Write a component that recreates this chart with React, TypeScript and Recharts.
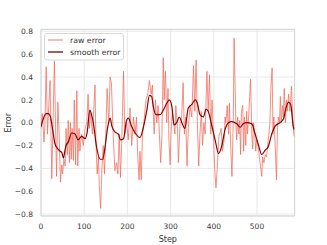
import React from "react";
import {
  LineChart,
  Line,
  XAxis,
  YAxis,
  CartesianGrid,
  ReferenceArea,
  Legend,
} from "recharts";

// raw error readings: [step, value]
const rawError: [number, number][] = [
  [0, -0.05], [3, 0.08], [7, -0.17], [9, -0.02], [12, 0.49], [15, -0.1], [18, 0.15], [21, 0.37], [25, -0.49], [31, 0.54],
  [34, -0.1], [36, -0.47], [39, 0.18], [42, -0.1], [45, -0.52], [48, -0.37], [50, -0.45], [53, -0.32], [56, -0.38], [58, -0.05],
  [61, -0.28], [63, 0.02], [66, -0.35], [68, 0.0], [70, -0.32], [72, -0.05], [75, -0.33], [77, 0.2], [80, -0.37], [83, 0.28],
  [85, -0.38], [88, -0.05], [90, -0.25], [94, -0.1], [98, -0.2], [102, -0.05], [106, 0.0], [109, 0.25], [112, -0.05], [115, 0.08],
  [119, -0.1], [121, 0.03], [125, 0.33], [127, -0.15], [130, -0.45], [133, -0.3], [135, -0.55], [138, -0.75], [141, -0.4], [144, -0.2],
  [147, -0.45], [150, -0.1], [153, 0.3], [157, 0.0], [160, 0.4], [163, 0.35], [167, -0.1], [171, -0.42], [175, -0.35], [178, -0.45],
  [181, -0.1], [184, -0.48], [187, -0.15], [191, 0.45], [194, -0.1], [198, 0.0], [202, -0.15], [206, 0.13], [210, -0.2], [214, 0.05],
  [218, -0.1], [221, 0.05], [224, -0.3], [227, -0.5], [229, -0.25], [232, -0.5], [235, -0.1], [238, 0.0], [243, 0.2], [247, 0.25],
  [251, 0.37], [255, 0.25], [258, 0.33], [260, 0.08], [262, -0.1], [265, 0.2], [268, 0.0], [271, 0.15], [274, -0.1], [277, -0.35],
  [280, -0.1], [283, 0.57], [285, 0.2], [288, 0.45], [291, 0.0], [294, 0.3], [296, -0.15], [299, -0.37], [301, -0.1], [304, 0.1],
  [307, 0.0], [310, -0.1], [312, 0.15], [316, -0.05], [318, -0.35], [322, 0.0], [325, 0.0], [329, 0.35], [332, -0.1], [335, 0.05],
  [338, -0.38], [341, -0.05], [345, 0.15], [349, 0.05], [353, 0.5], [356, 0.1], [359, 0.55], [362, 0.0], [365, -0.38], [368, -0.1],
  [371, 0.1], [374, -0.2], [377, 0.0], [380, -0.1], [384, 0.45], [387, 0.1], [390, 0.42], [393, -0.1], [396, 0.2], [399, -0.1],
  [402, -0.4], [405, -0.57], [408, -0.4], [412, -0.1], [414, -0.1], [417, -0.05], [420, -0.25], [424, -0.15], [426, 0.05], [428, 0.0],
  [431, 0.15], [434, -0.1], [436, 0.17], [439, -0.2], [442, -0.47], [445, 0.0], [447, 0.74], [451, 0.0], [453, -0.15], [455, 0.05],
  [458, -0.1], [460, 0.02], [462, -0.28], [464, 0.1], [467, 0.15], [469, -0.25], [471, 0.05], [474, -0.2], [476, 0.1], [478, -0.1],
  [481, 0.08], [483, 0.23], [485, 0.38], [488, -0.1], [490, -0.23], [492, 0.0], [495, -0.1], [497, -0.25], [499, -0.15], [503, -0.22],
  [507, -0.35], [511, -0.47], [513, -0.3], [516, -0.35], [519, -0.28], [522, -0.3], [526, -0.15], [530, 0.0], [532, 0.3], [535, 0.48],
  [537, -0.1], [539, 0.05], [542, -0.2], [545, -0.5], [547, -0.1], [549, 0.05], [552, 0.0], [554, 0.23], [556, 0.0], [559, 0.15],
  [561, 0.05], [563, 0.3], [566, 0.0], [568, 0.2], [570, 0.1], [573, 0.25], [576, 0.1], [580, 0.32], [582, 0.1], [584, -0.05],
  [586, -0.12],
];

// smooth error readings: [step, value]
const smoothError: [number, number][] = [
  [0, -0.035], [5, 0.03], [12, 0.08], [17, 0.08], [22, 0.05], [27, -0.06], [32, -0.18], [39, -0.23], [44, -0.25], [48, -0.26],
  [52, -0.31], [55, -0.25], [58, -0.2], [63, -0.17], [71, -0.09], [79, -0.1], [86, -0.15], [94, -0.12], [102, -0.14], [107, -0.08],
  [113, 0.11], [117, 0.07], [121, 0.0], [129, -0.22], [137, -0.32], [143, -0.32], [148, -0.22], [154, -0.05], [160, 0.04], [164, -0.03],
  [171, -0.08], [179, -0.1], [184, -0.15], [191, -0.14], [198, 0.02], [202, 0.04], [210, -0.035], [218, -0.09], [229, -0.13], [237, -0.04],
  [245, 0.11], [251, 0.24], [256, 0.23], [260, 0.14], [266, 0.07], [276, 0.07], [283, 0.11], [291, 0.17], [297, 0.2], [303, 0.14],
  [308, -0.02], [314, 0.0], [320, 0.05], [326, 0.0], [333, -0.05], [341, 0.13], [349, 0.16], [357, 0.2], [362, 0.17], [368, 0.07],
  [376, 0.05], [382, 0.12], [387, 0.1], [395, -0.02], [403, -0.15], [411, -0.27], [418, -0.21], [426, -0.06], [434, 0.0], [441, 0.01],
  [453, -0.01], [461, -0.04], [468, -0.01], [476, 0.0], [488, -0.01], [495, -0.09], [503, -0.19], [511, -0.28], [519, -0.24], [526, -0.21],
  [534, -0.1], [542, -0.03], [553, 0.0], [561, 0.03], [567, 0.13], [573, 0.18], [578, 0.16], [584, -0.035], [586, -0.06],
];

const xTicks = [0, 100, 200, 300, 400, 500];
const yTicks = [-0.8, -0.6, -0.4, -0.2, 0.0, 0.2, 0.4, 0.6, 0.8];
const xDomain: [number, number] = [0, 587];
const yDomain: [number, number] = [-0.817, 0.817];
const seriesNames = ["raw error", "smooth error"];

const RAW_COLOR = "#f26b5b";
const SMOOTH_COLOR = "#8b0000";
const FONT = "DejaVu Sans, sans-serif";

const rawData = rawError.map(([s, v]) => ({ step: s, value: v }));
const smoothData = smoothError.map(([s, v]) => ({ step: s, value: v }));

const fmtY = (v: number) => {
  const s = Math.abs(v).toFixed(1);
  return v < -1e-9 ? "\u2212" + s : s;
};

const LegendBox = () => (
  <svg width={80} height={28} style={{ display: "block" }}>
    <rect x={0.5} y={0.5} width={79} height={26.5} rx={2.5} fill="#ffffff" fillOpacity={0.8} stroke="#d8d8d8" />
    <line x1={4} x2={19} y1={7} y2={7} stroke={RAW_COLOR} strokeOpacity={0.75} strokeWidth={1.2} />
    <line x1={4} x2={19} y1={19} y2={19} stroke="#a84646" strokeWidth={1.8} />
    <text x={26} y={7} dominantBaseline="central" fontSize={7.8} fontFamily={FONT} fill="#333">
      {seriesNames[0]}
    </text>
    <text x={26} y={19} dominantBaseline="central" fontSize={7.8} fontFamily={FONT} fill="#333">
      {seriesNames[1]}
    </text>
  </svg>
);

export default function App() {
  return (
    <div style={{ position: "absolute", left: 0, top: 0, background: "#fff" }}>
      <LineChart
        width={327}
        height={245}
        margin={{ top: 29.4, right: 32.4, bottom: 0, left: 10 }}
      >
        <CartesianGrid stroke="#e6e6e6" strokeWidth={0.9} />
        <XAxis
          dataKey="step"
          type="number"
          domain={xDomain}
          ticks={xTicks}
          allowDataOverflow
          height={29}
          axisLine={false}
          tickLine={false}
          tick={{ fontSize: 7.5, fontFamily: FONT, fill: "#3a3a3a" }}
          label={{
            value: "Step",
            position: "insideBottom",
            offset: 3,
            fontSize: 8,
            fontFamily: FONT,
            fill: "#333",
          }}
        />
        <YAxis
          dataKey="value"
          type="number"
          domain={yDomain}
          ticks={yTicks}
          allowDataOverflow
          width={31}
          axisLine={false}
          tickLine={false}
          tickFormatter={fmtY}
          tick={{ fontSize: 7.5, fontFamily: FONT, fill: "#3a3a3a" }}
          label={{
            content: () => (
              <text
                x={8.5}
                y={122.7}
                transform="rotate(-90 8.5 122.7)"
                textAnchor="middle"
                dominantBaseline="central"
                fontSize={8}
                fontFamily={FONT}
                fill="#333"
              >
                Error
              </text>
            ),
          }}
        />
        <ReferenceArea
          x1={xDomain[0]}
          x2={xDomain[1]}
          y1={yDomain[0]}
          y2={yDomain[1]}
          fill="none"
          stroke="#d4d4d4"
          strokeWidth={1}
        />
        <Line
          data={rawData}
          dataKey="value"
          name={seriesNames[0]}
          type="linear"
          stroke={RAW_COLOR}
          strokeOpacity={0.75}
          strokeWidth={1}
          dot={false}
          isAnimationActive={false}
        />
        <Line
          data={smoothData}
          dataKey="value"
          name={seriesNames[1]}
          type="monotone"
          stroke={SMOOTH_COLOR}
          strokeWidth={1.2}
          dot={false}
          isAnimationActive={false}
        />
        <Legend
          layout="vertical"
          align="center"
          verticalAlign="middle"
          wrapperStyle={{ left: 44, top: 32.5, width: 80, height: 28 }}
          content={() => <LegendBox />}
        />
      </LineChart>
    </div>
  );
}
